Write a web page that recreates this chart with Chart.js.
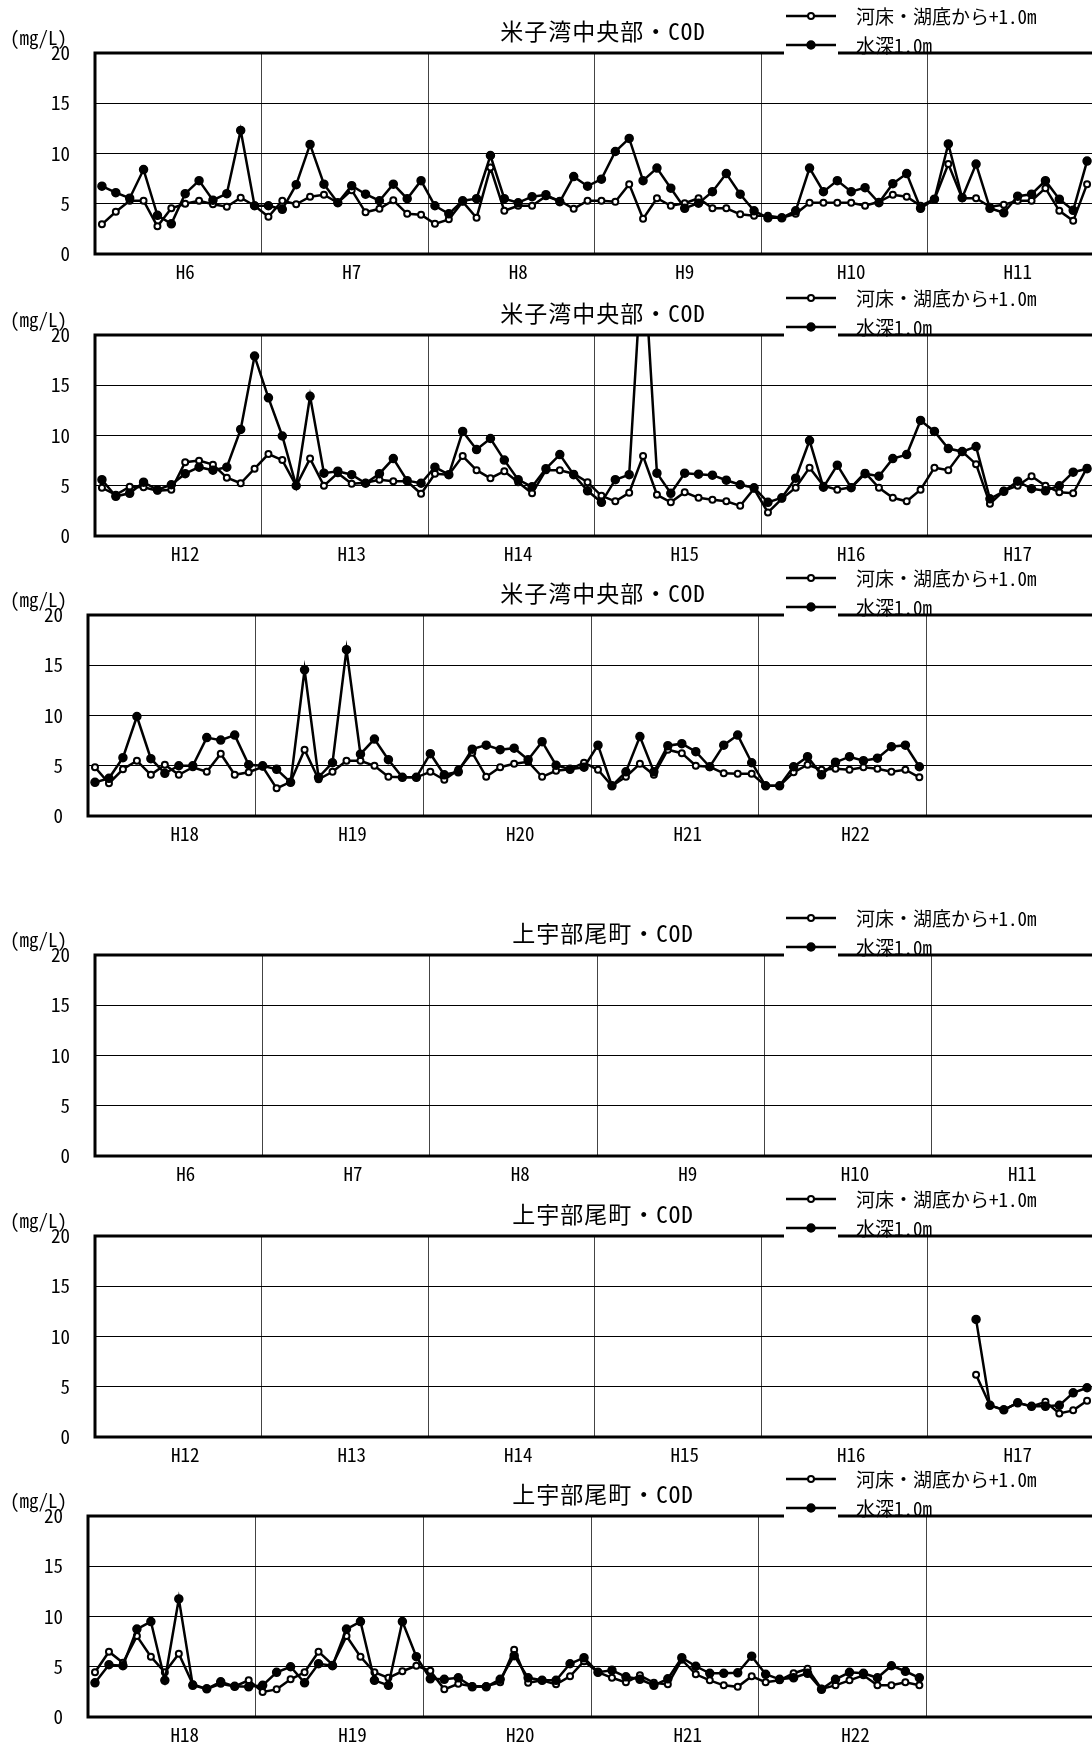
<!DOCTYPE html>
<html>
<head>
<meta charset="utf-8">
<script src="https://cdn.jsdelivr.net/npm/chart.js@4.4.1/dist/chart.umd.min.js"></script>
<style>
  html, body { margin: 0; padding: 0; background: #fff; overflow: hidden; width: 1092px; height: 1749px; }
  canvas { position: absolute; left: 0; }
</style>
</head>
<body>
<canvas id="c1" width="1100" height="300" style="top:0px"></canvas>
<canvas id="c2" width="1100" height="300" style="top:282px"></canvas>
<canvas id="c3" width="1100" height="300" style="top:562px"></canvas>
<canvas id="c4" width="1100" height="300" style="top:902px"></canvas>
<canvas id="c5" width="1100" height="300" style="top:1183px"></canvas>
<canvas id="c6" width="1100" height="300" style="top:1463px"></canvas>
<script>
// fiscal months (April .. March)
const months = ["4", "5", "6", "7", "8", "9", "10", "11", "12", "1", "2", "3"];

const yearsA = ["H6", "H7", "H8", "H9", "H10", "H11"];
const yearsB = ["H12", "H13", "H14", "H15", "H16", "H17"];
const yearsC = ["H18", "H19", "H20", "H21", "H22", ""];

const yTicks = [0, 5, 10, 15, 20];

const surfaceLabel = "水深1.0m";
const bottomLabel = "河床・湖底から+1.0m";

// 米子湾中央部 H6-H11
const bayTopA = [
  6.75, 6.1, 5.55, 8.4, 3.85, 3.0, 6.0, 7.3, 5.35, 6.0, 12.3, 4.8,
  4.8, 4.45, 6.9, 10.9, 6.95, 5.1, 6.8, 5.95, 5.3, 6.95, 5.5, 7.3,
  4.8, 4.0, 5.3, 5.5, 9.8, 5.5, 5.1, 5.7, 5.9, 5.2, 7.7, 6.75,
  7.45, 10.2, 11.5, 7.3, 8.55, 6.55, 4.55, 5.05, 6.2, 8.0, 5.95, 4.3,
  3.6, 3.6, 4.3, 8.55, 6.2, 7.3, 6.2, 6.6, 5.1, 7.0, 8.0, 4.55,
  5.45, 10.95, 5.6, 8.95, 4.55, 4.1, 5.75, 5.95, 7.3, 5.45, 4.35, 9.25
];
const bayBedA = [
  2.95, 4.2, 5.3, 5.3, 2.75, 4.55, 5.0, 5.3, 4.95, 4.7, 5.6, 4.8,
  3.7, 5.3, 4.95, 5.7, 5.9, 5.1, 6.35, 4.15, 4.5, 5.35, 4.0, 3.9,
  3.0, 3.45, 5.2, 3.6, 8.6, 4.3, 4.8, 4.8, 5.75, 5.3, 4.5, 5.3,
  5.3, 5.2, 6.95, 3.5, 5.55, 4.8, 5.05, 5.55, 4.55, 4.55, 3.95, 3.8,
  3.8, 3.6, 4.0, 5.1, 5.1, 5.1, 5.1, 4.8, 5.2, 5.9, 5.7, 4.8,
  5.45, 8.95, 5.55, 5.55, 4.7, 4.9, 5.3, 5.3, 6.55, 4.3, 3.3, 6.95
];

// 米子湾中央部 H12-H17
const bayTopB = [
  5.6, 3.95, 4.25, 5.35, 4.6, 5.1, 6.2, 6.85, 6.55, 6.85, 10.6, 17.9,
  13.75, 9.95, 5.0, 13.9, 6.25, 6.45, 6.1, 5.25, 6.2, 7.7, 5.5, 5.25,
  6.85, 6.1, 10.4, 8.6, 9.7, 7.55, 5.6, 4.9, 6.7, 8.1, 6.1, 4.5,
  3.35, 5.6, 6.1, 29.0, 6.25, 4.25, 6.25, 6.15, 6.05, 5.55, 5.1, 4.8,
  3.35, 3.8, 5.75, 9.5, 4.85, 7.05, 4.8, 6.2, 5.95, 7.7, 8.1, 11.5,
  10.4, 8.7, 8.4, 8.9, 3.7, 4.45, 5.45, 4.7, 4.5, 5.0, 6.35, 6.7
];
const bayBedB = [
  4.8, 4.1, 4.9, 4.85, 4.5, 4.6, 7.35, 7.5, 7.1, 5.8, 5.25, 6.7,
  8.15, 7.55, 5.0, 7.7, 5.0, 6.25, 5.2, 5.3, 5.6, 5.45, 5.45, 4.2,
  6.2, 6.1, 7.95, 6.55, 5.75, 6.45, 5.35, 4.25, 6.55, 6.55, 6.2, 5.35,
  4.0, 3.45, 4.3, 7.95, 4.1, 3.35, 4.35, 3.8, 3.6, 3.45, 3.0, 4.7,
  2.35, 3.7, 4.8, 6.8, 5.0, 4.6, 4.85, 6.3, 4.8, 3.8, 3.45, 4.6,
  6.8, 6.55, 8.4, 7.15, 3.2, 4.5, 5.0, 5.95, 5.0, 4.35, 4.25, 6.8
];

// 米子湾中央部 H18-H22
const bayTopC = [
  3.35, 3.75, 5.8, 9.9, 5.7, 4.25, 5.0, 5.0, 7.8, 7.55, 8.05, 5.1,
  5.0, 4.65, 3.35, 14.55, 3.85, 5.3, 16.55, 6.15, 7.65, 5.6, 3.85, 3.85,
  6.2, 4.1, 4.4, 6.65, 7.05, 6.6, 6.75, 5.6, 7.4, 5.05, 4.65, 4.85,
  7.05, 3.0, 4.4, 7.9, 4.4, 7.0, 7.2, 6.4, 4.9, 7.05, 8.05, 5.3,
  3.0, 3.0, 4.9, 5.9, 4.1, 5.35, 5.9, 5.5, 5.75, 6.9, 7.05, 4.9
];
const bayBedC = [
  4.85, 3.25, 4.65, 5.5, 4.1, 5.1, 4.1, 4.85, 4.4, 6.2, 4.1, 4.35,
  4.9, 2.75, 3.4, 6.6, 3.65, 4.4, 5.5, 5.5, 5.0, 3.9, 3.85, 3.85,
  4.4, 3.6, 4.6, 6.3, 3.9, 4.85, 5.2, 5.4, 3.9, 4.5, 4.65, 5.3,
  4.6, 3.0, 3.9, 5.2, 4.1, 6.6, 6.25, 5.0, 4.9, 4.25, 4.2, 4.2,
  3.0, 3.0, 4.35, 5.1, 4.6, 4.7, 4.6, 4.85, 4.7, 4.4, 4.6, 3.85
];

// 上宇部尾町 H6-H11 (no data)
const ubeTopA = [];
const ubeBedA = [];

// 上宇部尾町 H12-H17 (measured from H17 July)
const ubeTopB = [
  null, null, null, null, null, null, null, null, null, null, null, null,
  null, null, null, null, null, null, null, null, null, null, null, null,
  null, null, null, null, null, null, null, null, null, null, null, null,
  null, null, null, null, null, null, null, null, null, null, null, null,
  null, null, null, null, null, null, null, null, null, null, null, null,
  null, null, null, 11.7, 3.15, 2.7, 3.4, 3.05, 3.05, 3.15, 4.4, 4.9
];
const ubeBedB = [
  null, null, null, null, null, null, null, null, null, null, null, null,
  null, null, null, null, null, null, null, null, null, null, null, null,
  null, null, null, null, null, null, null, null, null, null, null, null,
  null, null, null, null, null, null, null, null, null, null, null, null,
  null, null, null, null, null, null, null, null, null, null, null, null,
  null, null, null, 6.2, 3.15, 2.7, 3.4, 3.05, 3.5, 2.35, 2.65, 3.6
];

// 上宇部尾町 H18-H22
const ubeTopC = [
  3.4, 5.2, 5.1, 8.75, 9.5, 3.65, 11.75, 3.15, 2.8, 3.5, 3.05, 3.0,
  3.15, 4.45, 5.0, 3.4, 5.3, 5.1, 8.75, 9.5, 3.65, 3.15, 9.5, 6.0,
  3.8, 3.75, 3.9, 3.0, 3.0, 3.75, 6.1, 3.9, 3.65, 3.65, 5.3, 5.9,
  4.45, 4.65, 4.0, 3.75, 3.15, 3.8, 5.9, 5.05, 4.35, 4.35, 4.4, 6.05,
  4.25, 3.75, 3.9, 4.35, 2.75, 3.75, 4.45, 4.35, 3.9, 5.1, 4.55, 3.9
];
const ubeBedC = [
  4.45, 6.5, 5.4, 8.05, 6.0, 4.45, 6.3, 3.25, 2.8, 3.3, 3.05, 3.65,
  2.5, 2.75, 3.75, 4.45, 6.5, 5.2, 8.05, 6.0, 4.45, 3.9, 4.55, 5.1,
  4.6, 2.75, 3.3, 3.05, 3.05, 3.45, 6.7, 3.4, 3.65, 3.25, 4.05, 5.55,
  4.45, 3.9, 3.45, 4.15, 3.4, 3.25, 5.7, 4.25, 3.65, 3.15, 3.0, 4.05,
  3.45, 3.65, 4.35, 4.8, 2.8, 3.15, 3.65, 4.15, 3.15, 3.15, 3.45, 3.15
];

const monoFont = "'Noto Sans Mono CJK JP', 'Noto Sans CJK JP', monospace";

// title, unit, legend and the heavy frame
const framePlugin = {
  id: "frame",
  afterDatasetsDraw(chart, args, opts) {
    const { ctx, chartArea: a } = chart;
    ctx.save();
    ctx.fillStyle = "#000";
    ctx.textBaseline = "middle";

    ctx.font = "23px " + monoFont;
    ctx.textAlign = "center";
    ctx.letterSpacing = "1px";
    ctx.fillText(opts.title, 603, a.top - 22);
    ctx.letterSpacing = "0px";

    ctx.font = "19px " + monoFont;
    ctx.textAlign = "left";
    ctx.fillText("(mg/L)", 10, a.top - 15);

    ctx.font = "19px " + monoFont;
    ctx.fillText(bottomLabel, 856, a.top - 36);
    ctx.fillText(surfaceLabel, 856, a.top - 7);

    ctx.strokeStyle = "#000";
    ctx.lineWidth = 3;
    ctx.strokeRect(a.left, a.top, a.right - a.left, a.bottom - a.top);

    // legend symbols
    ctx.fillStyle = "#fff";
    ctx.fillRect(784, a.top - 14, 54, 17);
    [[a.top - 37, "#fff"], [a.top - 8, "#000"]].forEach(([y, fill]) => {
      ctx.lineWidth = 2.5;
      ctx.beginPath();
      ctx.moveTo(786, y);
      ctx.lineTo(836, y);
      ctx.stroke();
      ctx.beginPath();
      ctx.arc(811, y, fill === "#fff" ? 3 : 4, 0, Math.PI * 2);
      ctx.fillStyle = fill;
      ctx.fill();
      ctx.lineWidth = fill === "#fff" ? 2 : 1.5;
      ctx.stroke();
    });
    ctx.restore();
  }
};

function makeChart(id, title, years, top, bed, left, labelShift) {
  const labels = [];
  years.forEach((y) => months.forEach((m) => labels.push(y + "/" + m)));

  new Chart(document.getElementById(id), {
    type: "line",
    data: {
      labels: labels,
      datasets: [
        {
          label: surfaceLabel,
          data: top,
          borderColor: "#000",
          borderWidth: 2.5,
          pointRadius: 4,
          pointBorderWidth: 1.5,
          pointBackgroundColor: "#000",
          pointBorderColor: "#000",
          tension: 0,
        },
        {
          label: bottomLabel,
          data: bed,
          borderColor: "#000",
          borderWidth: 2.5,
          pointRadius: 3,
          pointBorderWidth: 2,
          pointBackgroundColor: "#fff",
          pointBorderColor: "#000",
          tension: 0,
        },
      ],
    },
    options: {
      responsive: false,
      animation: false,
      layout: { padding: { top: 53, right: 1, left: 0, bottom: 0 } },
      plugins: {
        legend: { display: false },
        tooltip: { enabled: false },
        frame: { title: title },
      },
      scales: {
        x: {
          offset: true,
          grid: {
            offset: true,
            drawTicks: false,
            lineWidth: 1,
            color: (c) => (c.index % 12 === 0 ? "#444" : "rgba(0,0,0,0)"),
          },
          border: { display: false },
          ticks: {
            autoSkip: false,
            maxRotation: 0,
            minRotation: 0,
            padding: 6,
            labelOffset: labelShift,
            color: "#000",
            font: { family: monoFont, size: 19, weight: "normal" },
            callback: (v, i) => (i % 12 === 6 ? years[Math.floor(i / 12)] : ""),
          },
          afterFit: (s) => { s.height = 46; },
        },
        y: {
          min: 0,
          max: 20,
          afterBuildTicks: (s) => { s.ticks = yTicks.map((v) => ({ value: v })); },
          grid: { color: "#000", lineWidth: 1, drawTicks: false },
          border: { display: false },
          ticks: {
            padding: 25,
            color: "#000",
            font: { family: monoFont, size: 19, weight: "normal" },
          },
          afterFit: (s) => { s.width = left; },
        },
      },
    },
    plugins: [framePlugin],
  });
}

makeChart("c1", "米子湾中央部・COD", yearsA, bayTopA, bayBedA, 95, 0);
makeChart("c2", "米子湾中央部・COD", yearsB, bayTopB, bayBedB, 95, 0);
makeChart("c3", "米子湾中央部・COD", yearsC, bayTopC, bayBedC, 88, 6);
makeChart("c4", "上宇部尾町・COD", yearsA, ubeTopA, ubeBedA, 95, 0);
makeChart("c5", "上宇部尾町・COD", yearsB, ubeTopB, ubeBedB, 95, 0);
makeChart("c6", "上宇部尾町・COD", yearsC, ubeTopC, ubeBedC, 88, 6);
</script>
</body>
</html>
